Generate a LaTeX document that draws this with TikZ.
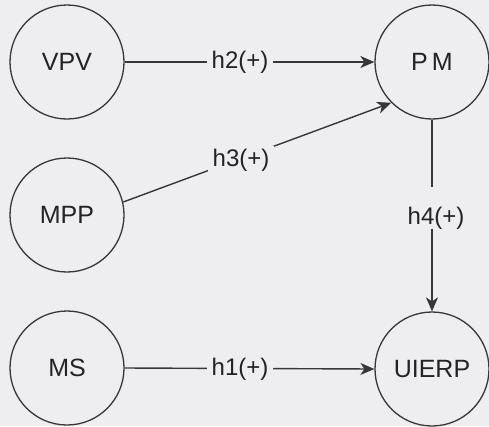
\documentclass[tikz,border=0pt]{standalone}
\usepackage{fontspec}
\setmainfont{Liberation Sans}
\usetikzlibrary{arrows.meta}
\definecolor{bg}{RGB}{238,238,240}
\definecolor{ln}{RGB}{55,55,58}
\definecolor{tx}{RGB}{35,35,38}
\begin{document}
\begin{tikzpicture}[x=1pt,y=-1pt,
  var/.style={circle,draw=ln,line width=1.3pt,minimum size=114pt,inner sep=0pt,
    text=tx,font=\fontsize{25}{30}\selectfont},
  lab/.style={fill=bg,text=tx,inner xsep=5pt,inner ysep=3pt,font=\fontsize{24}{29}\selectfont},
  conn/.style={draw=ln,line width=1.4pt},
  arr/.style={conn,-{Stealth[length=14pt,width=12pt,inset=4pt]}}]
\fill[bg] (0,0) rectangle (489,426);
\useasboundingbox (0,0) rectangle (489,426);
\node[var] (VPV) at (67,62) {VPV};
\node[var] (PM) at (432,62) {P\,M};
\node[var] (MPP) at (67,215) {MPP};
\node[var] (MS) at (67,368) {MS};
\node[var] (UIERP) at (432,369) {UIERP};
\draw[arr] (VPV) -- (PM);
\draw[arr] (MPP.13) -- (PM.225);
\draw[arr] (MS.east) -- (UIERP.west);
\coordinate (g4) at (432,187);
\coordinate (g4b) at (432,229);
\draw[conn] (PM.south) -- (g4);
\draw[arr] (g4b) -- (UIERP.north);
\node[lab] (l2) at (240,62) {h2(+)};
\node[lab] (l3) at (241,160) {h3(+)};
\node[lab] (l1) at (240,369) {h1(+)};
\node[text=tx,font=\fontsize{24}{29}\selectfont] (l4) at (436,218) {h4(+)};
\end{tikzpicture}
\end{document}
